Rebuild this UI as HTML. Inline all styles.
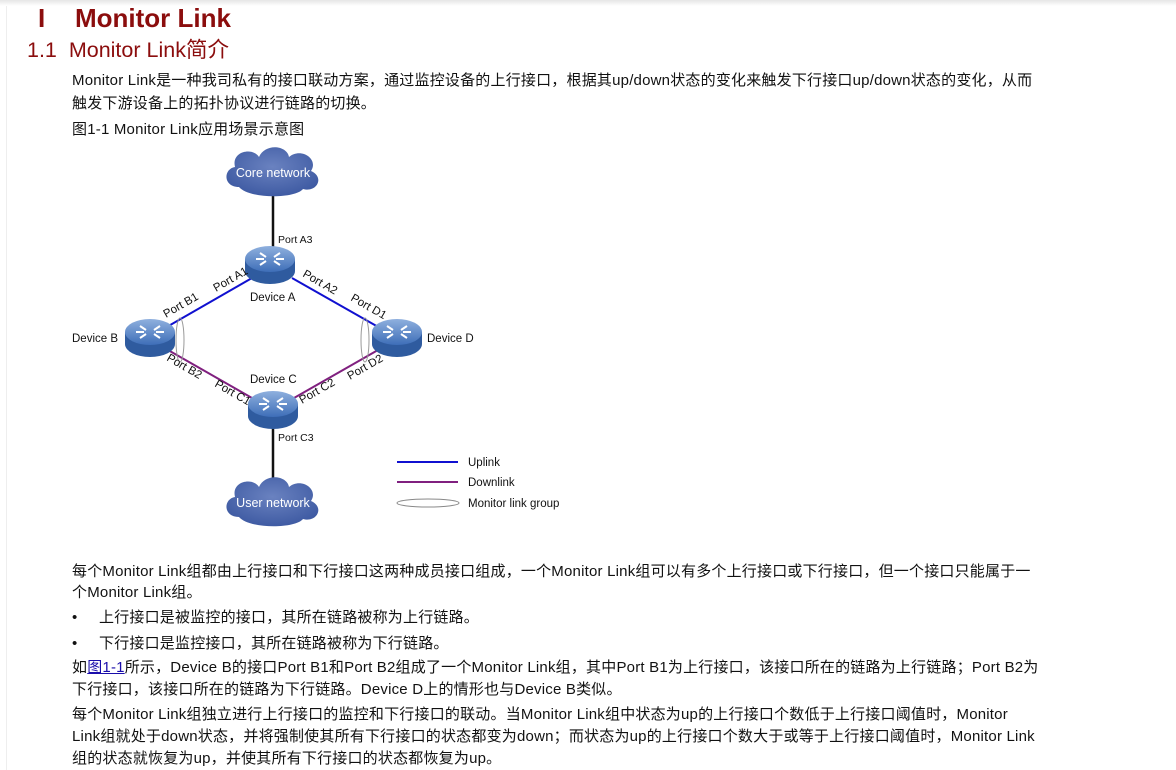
<!DOCTYPE html>
<html><head><meta charset="utf-8"><style>
body{margin:0;width:1176px;height:770px;background:#fff;position:relative;overflow:hidden;font-family:"Liberation Sans","Noto Sans CJK SC",sans-serif;color:#111}
.t{position:absolute;white-space:nowrap;font-size:15px;letter-spacing:0.2px;line-height:17px}
.topbar{position:absolute;left:0;top:0;width:1176px;height:6px;background:linear-gradient(#e6e6e6,#fff)}
.lb{position:absolute;left:0;top:6px;width:6px;height:764px;border-right:1px solid #eee}
svg text{font-family:"Liberation Sans",sans-serif;font-size:11.5px;fill:#111}
</style></head><body>
<div class="topbar"></div><div class="lb"></div>
<div class="t" style="left:38px;top:3px;font-size:26px;line-height:30px;letter-spacing:0;font-weight:bold;color:#8b0d0d">I</div>
<div class="t" style="left:75px;top:3px;font-size:26px;line-height:30px;letter-spacing:0;font-weight:bold;color:#8b0d0d">Monitor Link</div>
<div class="t" style="left:27px;top:37px;font-size:21.5px;line-height:26px;letter-spacing:0;color:#8b0d0d">1.1&nbsp;&nbsp;Monitor Link简介</div>
<div class="t" style="left:72px;top:72px">Monitor Link是一种我司私有的接口联动方案，通过监控设备的上行接口，根据其up/down状态的变化来触发下行接口up/down状态的变化，从而</div>
<div class="t" style="left:72px;top:95px">触发下游设备上的拓扑协议进行链路的切换。</div>
<div class="t" style="left:72px;top:121px">图1-1 Monitor Link应用场景示意图</div>
<svg style="position:absolute;left:0;top:0" width="1176" height="770">
<defs>
<radialGradient id="cg" cx="50%" cy="40%" r="60%"><stop offset="0" stop-color="#6a82c0"/><stop offset="1" stop-color="#3f5ba3"/></radialGradient>
<linearGradient id="dg" x1="0" y1="0" x2="0" y2="1"><stop offset="0" stop-color="#8fb0de"/><stop offset="1" stop-color="#3e6eb8"/></linearGradient>
<g id="dev"><ellipse cx="0" cy="6" rx="25" ry="13" fill="#2f5b9f"/><rect x="-25" y="-6" width="50" height="12" fill="#2f5b9f"/><ellipse cx="0" cy="-6" rx="25" ry="13" fill="url(#dg)"/>
<path d="M-10,-12 l6,4 M10,-12 l-6,4 M-10,0 l6,-4 M10,0 l-6,-4 M-14,-6 h8 M14,-6 h-8" stroke="#fff" stroke-width="2"/></g>
<g id="cloud"><path d="M-34,14 C-50,14 -50,-4 -38,-6 C-42,-22 -20,-26 -14,-16 C-8,-30 14,-28 16,-16 C28,-26 46,-14 38,-2 C52,4 44,20 30,16 C22,26 -24,26 -34,14Z" fill="url(#cg)"/></g>
</defs>
<line x1="273" y1="195" x2="273" y2="255" stroke="#111" stroke-width="2.5"/>
<line x1="273" y1="420" x2="273" y2="485" stroke="#111" stroke-width="2.5"/>
<line x1="252" y1="278" x2="165" y2="328" stroke="#1010d0" stroke-width="2"/>
<line x1="292" y1="278" x2="380" y2="328" stroke="#1010d0" stroke-width="2"/>
<line x1="168" y1="350" x2="252" y2="398" stroke="#80207f" stroke-width="2"/>
<line x1="294" y1="398" x2="378" y2="350" stroke="#80207f" stroke-width="2"/>
<use href="#cloud" x="273" y="173"/>
<use href="#cloud" x="273" y="503"/>
<text x="273" y="177" text-anchor="middle" style="fill:#fff;font-size:12.5px">Core network</text>
<text x="273" y="507" text-anchor="middle" style="fill:#fff;font-size:12.5px">User network</text>
<use href="#dev" x="270" y="265"/>
<use href="#dev" x="150" y="338"/>
<use href="#dev" x="397" y="338"/>
<use href="#dev" x="273" y="410"/>
<ellipse cx="180" cy="340" rx="4" ry="22" fill="none" stroke="#999"/>
<ellipse cx="365" cy="340" rx="4" ry="22" fill="none" stroke="#999"/>
<text x="278" y="243" style="font-size:10.5px">Port A3</text>
<text x="250" y="301">Device A</text>
<text x="72" y="342">Device B</text>
<text x="427" y="342">Device D</text>
<text x="250" y="383">Device C</text>
<text x="278" y="441" style="font-size:10.5px">Port C3</text>
<g style="font-size:10.5px">
<text transform="translate(216,292) rotate(-30)">Port A1</text>
<text transform="translate(302,276) rotate(30)">Port A2</text>
<text transform="translate(166,318) rotate(-30)">Port B1</text>
<text transform="translate(350,300) rotate(30)">Port D1</text>
<text transform="translate(166,360) rotate(30)">Port B2</text>
<text transform="translate(214,386) rotate(30)">Port C1</text>
<text transform="translate(302,404) rotate(-30)">Port C2</text>
<text transform="translate(350,380) rotate(-30)">Port D2</text>
</g>
<line x1="397" y1="462" x2="458" y2="462" stroke="#1010d0" stroke-width="2"/>
<line x1="397" y1="482" x2="458" y2="482" stroke="#80207f" stroke-width="2"/>
<ellipse cx="428" cy="503" rx="31" ry="4" fill="none" stroke="#888"/>
<text x="468" y="466">Uplink</text>
<text x="468" y="486">Downlink</text>
<text x="468" y="507">Monitor link group</text>
</svg>
<div class="t" style="left:72px;top:563px">每个Monitor Link组都由上行接口和下行接口这两种成员接口组成，一个Monitor Link组可以有多个上行接口或下行接口，但一个接口只能属于一</div>
<div class="t" style="left:72px;top:584px">个Monitor Link组。</div>
<div class="t" style="left:72px;top:609px">•</div><div class="t" style="left:99px;top:609px">上行接口是被监控的接口，其所在链路被称为上行链路。</div>
<div class="t" style="left:72px;top:635px">•</div><div class="t" style="left:99px;top:635px">下行接口是监控接口，其所在链路被称为下行链路。</div>
<div class="t" style="left:72px;top:659px">如<span style="color:#1a0dab;text-decoration:underline">图1-1</span>所示，Device B的接口Port B1和Port B2组成了一个Monitor Link组，其中Port B1为上行接口，该接口所在的链路为上行链路；Port B2为</div>
<div class="t" style="left:72px;top:681px">下行接口，该接口所在的链路为下行链路。Device D上的情形也与Device B类似。</div>
<div class="t" style="left:72px;top:706px">每个Monitor Link组独立进行上行接口的监控和下行接口的联动。当Monitor Link组中状态为up的上行接口个数低于上行接口阈值时，Monitor</div>
<div class="t" style="left:72px;top:728px">Link组就处于down状态，并将强制使其所有下行接口的状态都变为down；而状态为up的上行接口个数大于或等于上行接口阈值时，Monitor Link</div>
<div class="t" style="left:72px;top:750px">组的状态就恢复为up，并使其所有下行接口的状态都恢复为up。</div>
</body></html>
